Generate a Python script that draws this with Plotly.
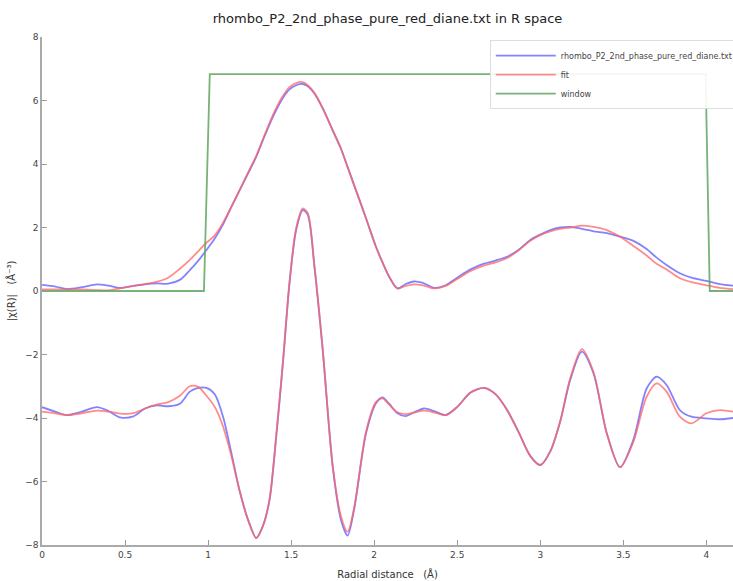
import plotly.graph_objects as go

# Radial distance grid (Å)
R = [0.00, 0.08, 0.15, 0.24, 0.33, 0.40, 0.47, 0.55, 0.62, 0.69, 0.76, 0.83, 0.89, 0.94, 0.99,
     1.04, 1.09, 1.14, 1.19, 1.24, 1.29, 1.33, 1.37, 1.41, 1.45, 1.49, 1.53, 1.57, 1.60, 1.64,
     1.69, 1.75, 1.80, 1.84, 1.88, 1.95, 2.01, 2.05, 2.09, 2.14, 2.19, 2.24, 2.30, 2.36, 2.43,
     2.50, 2.58, 2.66, 2.73, 2.80, 2.87, 2.94, 3.00, 3.06, 3.12, 3.18, 3.25, 3.32, 3.40, 3.48,
     3.56, 3.64, 3.70, 3.76, 3.84, 3.91, 4.00, 4.08, 4.16]

# |chi(R)| of the data
mag_data = [0.19, 0.14, 0.06, 0.12, 0.21, 0.17, 0.10, 0.16, 0.21, 0.24, 0.23, 0.35, 0.66, 0.95, 1.29,
            1.65, 2.10, 2.65, 3.18, 3.70, 4.23, 4.75, 5.25, 5.70, 6.08, 6.35, 6.48, 6.52, 6.45, 6.22,
            5.75, 5.06, 4.48, 3.90, 3.32, 2.30, 1.40, 0.90, 0.45, 0.08, 0.22, 0.30, 0.24, 0.10, 0.18,
            0.42, 0.68, 0.86, 0.96, 1.08, 1.30, 1.61, 1.78, 1.92, 2.00, 2.02, 1.96, 1.88, 1.82, 1.71,
            1.58, 1.32, 1.05, 0.82, 0.56, 0.42, 0.32, 0.22, 0.17]

# |chi(R)| of the fit
mag_fit = [0.05, 0.05, 0.05, 0.05, 0.03, 0.02, 0.08, 0.16, 0.22, 0.29, 0.42, 0.70, 0.98, 1.25, 1.52,
           1.75, 2.15, 2.65, 3.18, 3.72, 4.26, 4.78, 5.30, 5.76, 6.14, 6.42, 6.55, 6.58, 6.48, 6.24,
           5.76, 5.06, 4.48, 3.90, 3.32, 2.30, 1.40, 0.90, 0.45, 0.08, 0.16, 0.21, 0.17, 0.08, 0.16,
           0.38, 0.63, 0.80, 0.90, 1.04, 1.28, 1.58, 1.76, 1.88, 1.96, 2.00, 2.06, 2.02, 1.92, 1.71,
           1.42, 1.12, 0.86, 0.68, 0.40, 0.28, 0.18, 0.10, 0.06]

# Re[chi(R)] of the data (plotted with offset -4)
re_data = [-3.66, -3.80, -3.91, -3.80, -3.66, -3.78, -3.98, -3.95, -3.70, -3.60, -3.63, -3.55, -3.17, -3.05, -3.05,
           -3.25, -3.96, -5.10, -6.30, -7.20, -7.78, -7.40, -6.58, -4.60, -2.30, 0.24, 1.92, 2.55, 2.40, 0.77,
           -1.86, -5.53, -7.21, -7.70, -6.85, -4.50, -3.54, -3.35, -3.55, -3.85, -3.94, -3.82, -3.70, -3.78, -3.91,
           -3.65, -3.20, -3.05, -3.25, -3.75, -4.45, -5.20, -5.48, -5.05, -4.10, -2.80, -1.91, -2.59, -4.48, -5.55,
           -4.69, -3.07, -2.70, -2.96, -3.75, -3.96, -4.01, -4.04, -4.00]

# Re[chi(R)] of the fit (plotted with offset -4)
re_fit = [-3.80, -3.85, -3.91, -3.85, -3.77, -3.80, -3.86, -3.85, -3.70, -3.58, -3.50, -3.30, -3.00, -3.02, -3.30,
          -3.65, -4.27, -5.20, -6.30, -7.20, -7.78, -7.40, -6.55, -4.55, -2.25, 0.28, 1.98, 2.60, 2.45, 0.80,
          -1.84, -5.50, -7.10, -7.58, -6.80, -4.45, -3.50, -3.38, -3.58, -3.82, -3.88, -3.83, -3.77, -3.82, -3.91,
          -3.65, -3.20, -3.05, -3.25, -3.75, -4.45, -5.20, -5.48, -5.05, -4.10, -2.75, -1.83, -2.55, -4.48, -5.55,
          -4.75, -3.33, -2.91, -3.17, -3.96, -4.17, -3.85, -3.75, -3.80]

# Fourier-transform window
win_R = [0.00, 0.975, 1.01, 3.995, 4.02, 4.16]
win_v = [0.0, 0.0, 6.83, 6.83, 0.0, 0.0]

blue = "rgba(100,100,255,0.8)"
red = "rgba(255,100,100,0.75)"
green = "rgba(95,165,95,0.85)"

fig = go.Figure()
fig.add_trace(go.Scatter(x=R, y=mag_data, mode="lines", name="rhombo_P2_2nd_phase_pure_red_diane.txt",
                         line=dict(color=blue, width=1.8, shape="spline", smoothing=0.8),
                         legendgroup="d", legendrank=1))
fig.add_trace(go.Scatter(x=R, y=re_data, mode="lines", showlegend=False,
                         line=dict(color=blue, width=1.8, shape="spline", smoothing=0.8),
                         legendgroup="d"))
fig.add_trace(go.Scatter(x=R, y=mag_fit, mode="lines", name="fit",
                         line=dict(color=red, width=1.8, shape="spline", smoothing=0.8),
                         legendgroup="f", legendrank=2))
fig.add_trace(go.Scatter(x=R, y=re_fit, mode="lines", showlegend=False,
                         line=dict(color=red, width=1.8, shape="spline", smoothing=0.8),
                         legendgroup="f"))
fig.add_trace(go.Scatter(x=win_R, y=win_v, mode="lines", name="window",
                         line=dict(color=green, width=1.8), legendrank=3))

fig.update_layout(
    width=733, height=581,
    margin=dict(l=42, r=0, t=37, b=36, autoexpand=False),
    paper_bgcolor="white", plot_bgcolor="white",
    font=dict(family="DejaVu Sans", color="#333333"),
    title=dict(text="rhombo_P2_2nd_phase_pure_red_diane.txt in R space",
               x=0.5, xref="paper", xanchor="center", y=0.969, yanchor="middle",
               font=dict(size=13, color="#222222")),
    legend=dict(x=0.648, y=0.994, xanchor="left", yanchor="top",
                bgcolor="rgba(255,255,255,0.9)", bordercolor="#dddddd", borderwidth=1,
                font=dict(size=8, color="#444444"), tracegroupgap=0, itemwidth=60),
    showlegend=True,
)
fig.update_xaxes(range=[0, 4.16], tickvals=[0, 0.5, 1, 1.5, 2, 2.5, 3, 3.5, 4],
                 ticktext=["0", "0.5", "1", "1.5", "2", "2.5", "3", "3.5", "4"],
                 automargin=False,
                 showgrid=False, zeroline=False, showline=True, linecolor="#aaaaaa", linewidth=1.5,
                 ticks="inside", ticklen=5, tickcolor="#999999",
                 tickfont=dict(size=9, color="#444444"),
                 title=dict(text="Radial distance   (Å)", font=dict(size=10, color="#333333"), standoff=12))
fig.update_yaxes(range=[-8, 8], tickvals=[-8, -6, -4, -2, 0, 2, 4, 6, 8],
                 automargin=False,
                 showgrid=False, zeroline=False, showline=True, linecolor="#aaaaaa", linewidth=1.5,
                 ticks="inside", ticklen=5, tickcolor="#999999",
                 tickfont=dict(size=9, color="#444444"),
                 title=dict(text="|χ(R)|   (Å⁻³)", font=dict(size=10, color="#333333"), standoff=8))

fig.write_html("out.html", config={"displayModeBar": False},
               post_script="document.body.style.margin='0';document.body.style.overflow='hidden';")
